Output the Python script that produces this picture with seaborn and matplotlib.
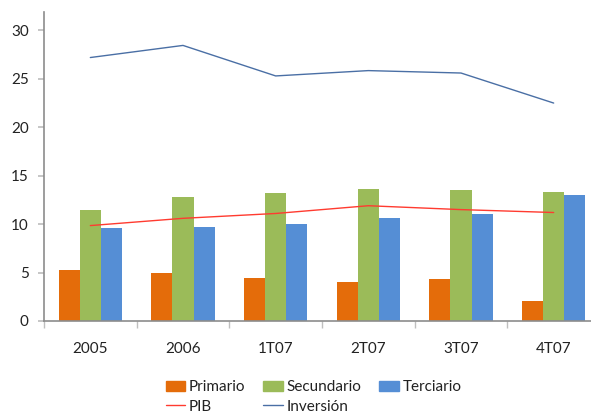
import pandas as pd
import numpy as np
import matplotlib
matplotlib.use("Agg")
import matplotlib.pyplot as plt
import seaborn as sns
from matplotlib.patches import Patch
from matplotlib.lines import Line2D

# Data
periods = ["2005", "2006", "1T07", "2T07", "3T07", "4T07"]
primario = [5.25, 4.95, 4.4, 4.0, 4.3, 2.05]
secundario = [11.45, 12.8, 13.2, 13.6, 13.5, 13.3]
terciario = [9.6, 9.7, 10.0, 10.6, 11.0, 13.0]
pib = [9.85, 10.6, 11.1, 11.9, 11.5, 11.2]
inversion = [27.2, 28.45, 25.3, 25.85, 25.6, 22.5]

sns.set_theme(style="white")
plt.rcParams['font.family'] = ['Lato', 'DejaVu Sans']

df = pd.DataFrame({
    "periodo": periods * 3,
    "valor": primario + secundario + terciario,
    "sector": ["Primario"] * 6 + ["Secundario"] * 6 + ["Terciario"] * 6,
})

colors = {"Primario": "#E46C0A", "Secundario": "#9BBB59", "Terciario": "#558ED5"}

fig = plt.figure(figsize=(5.91, 4.17), dpi=100)
ax = fig.add_axes([44 / 591, 96 / 417, 556 / 591, 309 / 417])

sns.barplot(data=df, x="periodo", y="valor", hue="sector", palette=colors,
            width=0.68, saturation=1, ax=ax, legend=False)
for p in ax.patches:
    p.set_edgecolor("none")

x = np.arange(len(periods))
ax.plot(x, pib, color="#FF3B30", lw=1, label="PIB")
ax.plot(x, inversion, color="#4A6FA5", lw=1, label="Inversión")

ax.set_xlim(-0.5, 5.5)
ax.set_ylim(0, 31.9)
ax.set_yticks(range(0, 31, 5))
ax.set_xlabel("")
ax.set_ylabel("")

for s in ["top", "right"]:
    ax.spines[s].set_visible(False)
for s in ["left", "bottom"]:
    ax.spines[s].set_color("#8C8C8C")
    ax.spines[s].set_linewidth(1.2)

ax.tick_params(axis="y", which="major", length=4, color="#BFBFBF", labelsize=11,
               labelcolor="#222222", left=True, pad=7)
ax.tick_params(axis="x", which="major", length=0, labelsize=11, labelcolor="#222222", pad=15)
ax.set_xticks(np.arange(-0.5, 6.0, 1), minor=True)
ax.tick_params(axis="x", which="minor", length=5, color="#BFBFBF", width=1, bottom=True)
ax.grid(False)

handles = [
    Patch(color=colors["Primario"], label="Primario"),
    Line2D([], [], color="#FF3B30", lw=1, label="PIB"),
    Patch(color=colors["Secundario"], label="Secundario"),
    Line2D([], [], color="#4A6FA5", lw=1, label="Inversión"),
    Patch(color=colors["Terciario"], label="Terciario"),
    Patch(color="none", label=""),
]
fig.legend(handles=handles, ncol=3, loc="center", bbox_to_anchor=(0.5 + 18 / 591, 20 / 417),
           frameon=False, fontsize=11, handlelength=1.3, handleheight=0.7,
           handletextpad=0.2, columnspacing=1.2, labelspacing=0.35,
           labelcolor="#222222")

fig.savefig("out.png", dpi=100)
